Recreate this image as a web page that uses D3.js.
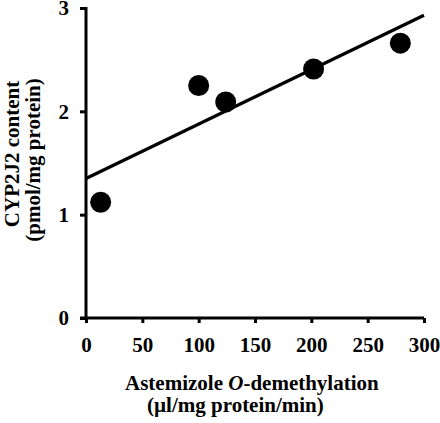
<!DOCTYPE html>
<html><head><meta charset="utf-8">
<script src="https://cdn.jsdelivr.net/npm/d3@7"></script>
<style>body{margin:0;background:#fff}svg{display:block}text{font-family:"Liberation Serif","Times New Roman",serif;font-weight:bold}</style>
</head><body>
<script>
const xValues = [13, 100, 124, 202, 279];
const yValues = [1.12, 2.25, 2.09, 2.41, 2.66];
const fitX = [0, 300];
const fitY = [1.35, 2.93];
const xTicks = [0, 50, 100, 150, 200, 250, 300];
const yTicks = [0, 1, 2, 3];

const W = 440, H = 423;
const svg = d3.select("body").append("svg").attr("width", W).attr("height", H);
const x = d3.scaleLinear().domain([0, 300]).range([86, 424]);
const y = d3.scaleLinear().domain([0, 3]).range([318, 8]);

const xAxis = svg.append("g").attr("transform", `translate(0,${y(0)})`)
  .call(d3.axisBottom(x).tickValues(xTicks).tickFormat(d3.format("d")).tickSize(5).tickSizeOuter(0).tickPadding(14));
const yAxis = svg.append("g").attr("transform", `translate(${x(0)},0)`)
  .call(d3.axisLeft(y).tickValues(yTicks).tickFormat(d3.format("d")).tickSize(6).tickSizeOuter(0).tickPadding(11));
[xAxis, yAxis].forEach(g => {
  g.attr("font-family", null).attr("font-size", null);
  g.select(".domain").attr("stroke", "#000").attr("stroke-width", 3);
  g.selectAll(".tick line").attr("stroke", "#000").attr("stroke-width", 3);
  g.selectAll(".tick text").attr("fill", "#000").style("font-size", "21px")
    .style("font-family", '"Liberation Serif", "Times New Roman", serif').style("font-weight", "bold");
});
xAxis.select(".domain").attr("d", `M${x(0)-6},0H${x(300)}`);
yAxis.select(".domain").attr("d", `M0,${y(3)-1}V${y(0)+1.5}`);

svg.append("line")
  .attr("x1", x(fitX[0])).attr("y1", y(fitY[0]))
  .attr("x2", x(fitX[1])).attr("y2", y(fitY[1]))
  .attr("stroke", "#000").attr("stroke-width", 3.2);

svg.selectAll("circle.pt").data(xValues.map((v, i) => [v, yValues[i]])).enter()
  .append("circle").attr("class", "pt")
  .attr("cx", d => x(d[0])).attr("cy", d => y(d[1])).attr("r", 10.5).attr("fill", "#000");

const yl = svg.append("text").attr("transform", "translate(19,160) rotate(-90)")
  .attr("text-anchor", "middle").style("font-size", "21px").attr("fill", "#000");
yl.append("tspan").attr("x", 0).attr("y", 0).attr("dx", 6).text("CYP2J2 content");
yl.append("tspan").attr("x", 0).attr("y", 21).text("(pmol/mg protein)");

const xl = svg.append("text").style("font-size", "21px").attr("fill", "#000");
const l1 = xl.append("tspan").attr("x", 125).attr("y", 390);
l1.append("tspan").text("Astemizole ");
l1.append("tspan").style("font-style", "italic").text("O");
l1.append("tspan").text("-demethylation");
xl.append("tspan").attr("x", 147).attr("y", 412).text("(\u00b5l/mg protein/min)");
</script>
</body></html>
